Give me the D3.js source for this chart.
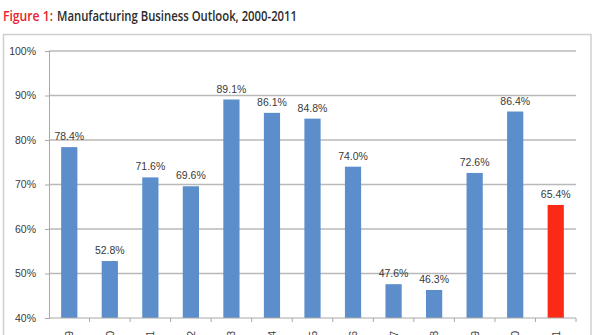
<!DOCTYPE html>
<html><head><meta charset="utf-8">
<script src="https://cdn.jsdelivr.net/npm/d3@7"></script>
<style>body{margin:0;background:#fff;overflow:hidden}</style>
</head><body>
<svg id="c" width="595" height="335"></svg>
<script>
const categories = ["1999","2000","2001","2002","2003","2004","2005","2006","2007","2008","2009","2010","2011"];
const values = [78.4, 52.8, 71.6, 69.6, 89.1, 86.1, 84.8, 74.0, 47.6, 46.3, 72.6, 86.4, 65.4];
const highlight = [false,false,false,false,false,false,false,false,false,false,false,false,true];
const yTicks = [40, 50, 60, 70, 80, 90, 100];

const svg = d3.select("#c");

// title (two parts)
const titleStyle = sel => sel.style("font-family", "'Open Sans', sans-serif").style("font-size", "13.5px")
  .style("font-weight", 600).attr("lengthAdjust", "spacingAndGlyphs");
svg.append("text").attr("x", 3).attr("y", 21).attr("textLength", 50)
  .attr("fill", "#e8242c").call(titleStyle).text("Figure 1:");
svg.append("text").attr("x", 57).attr("y", 21).attr("textLength", 240)
  .attr("fill", "#2b2b2b").call(titleStyle).text("Manufacturing Business Outlook, 2000-2011");

// outer frame
svg.append("rect").attr("x", 3.5).attr("y", 34.5).attr("width", 587.5).attr("height", 310)
  .attr("fill", "none").attr("stroke", "#cfcfcf").attr("stroke-width", 1.5);

const x = d3.scaleBand().domain(categories).range([49, 576]).paddingInner(0.6).paddingOuter(0.3);
const y = d3.scaleLinear().domain([40, 100]).range([318, 51]);

// gridlines
svg.append("g").selectAll("line").data(yTicks.slice(1)).join("line")
  .attr("x1", 49).attr("x2", 576).attr("y1", d => y(d)).attr("y2", d => y(d))
  .attr("stroke", "#b9b9b9").attr("stroke-width", 1.3);

// y axis
const ya = svg.append("g").attr("transform", "translate(49,0)")
  .call(d3.axisLeft(y).tickValues(yTicks).tickFormat(d => d + "%").tickSize(4).tickPadding(9));
ya.select(".domain").attr("stroke", "#a8a8a8");
ya.selectAll(".tick line").attr("stroke", "#a8a8a8");
ya.selectAll("text").attr("fill", "#3a3a3a").style("font-family", "Arial, 'Liberation Sans', sans-serif").style("font-size", "10.5px");

// bars
svg.append("g").selectAll("rect").data(values).join("rect")
  .attr("x", (d, i) => x(categories[i]))
  .attr("width", x.bandwidth())
  .attr("y", d => y(d))
  .attr("height", d => y(40) - y(d))
  .attr("fill", (d, i) => highlight[i] ? "#fa2a17" : "#5b8ecb");

// value labels
svg.append("g").selectAll("text").data(values).join("text")
  .attr("x", (d, i) => x(categories[i]) + x.bandwidth() / 2)
  .attr("y", d => y(d) - 7)
  .attr("text-anchor", "middle")
  .attr("fill", "#3a3a3a")
  .style("font-family", "Arial, 'Liberation Sans', sans-serif").style("font-size", "10.5px")
  .text(d => d.toFixed(1) + "%");

// x axis
const xb = d3.scaleLinear().domain([0, categories.length]).range([49, 576]);
const xa = svg.append("g").attr("transform", "translate(0,318)");
xa.append("line").attr("x1", 49).attr("x2", 576).attr("stroke", "#a8a8a8");
xa.selectAll(".tk").data(d3.range(1, categories.length + 1)).join("line")
  .attr("x1", d => xb(d)).attr("x2", d => xb(d)).attr("y1", 0).attr("y2", 4).attr("stroke", "#a8a8a8");
xa.selectAll(".lb").data(categories).join("text")
  .attr("transform", (d) => `translate(${x(d) + x.bandwidth() / 2 + 4},13) rotate(-90)`)
  .attr("text-anchor", "end")
  .attr("fill", "#3a3a3a")
  .style("font-family", "Arial, 'Liberation Sans', sans-serif").style("font-size", "10.5px")
  .text(d => d);
</script>
</body></html>
